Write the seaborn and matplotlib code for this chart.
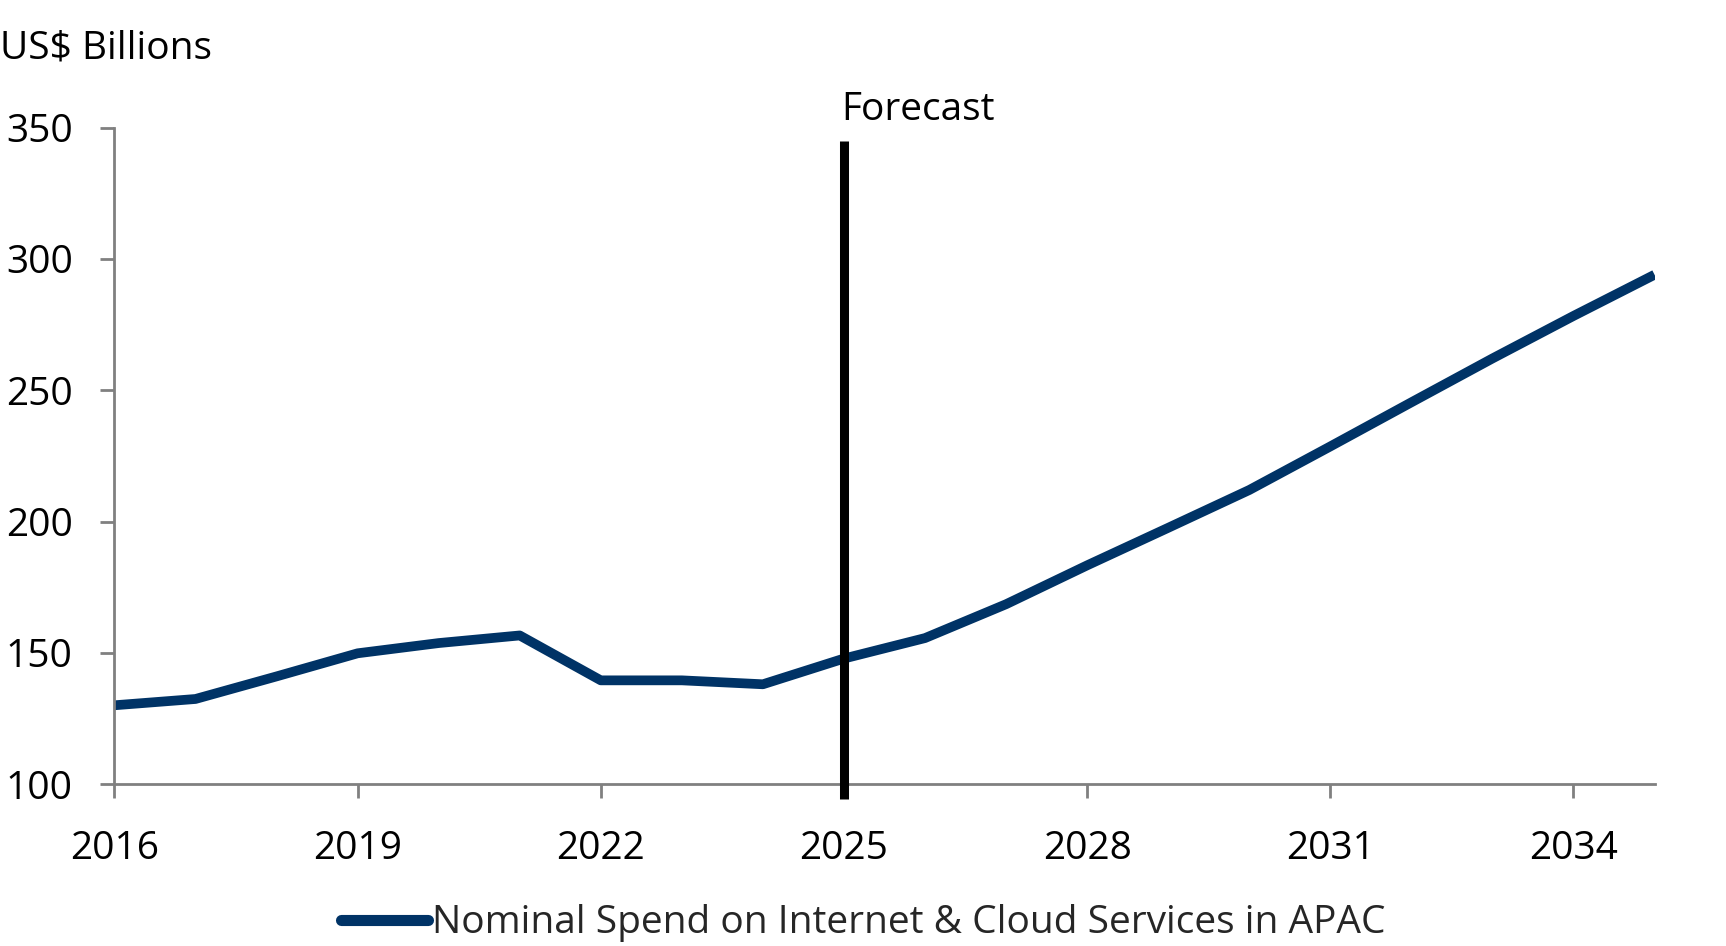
import matplotlib
matplotlib.use("Agg")
import matplotlib.pyplot as plt
import seaborn as sns
import pandas as pd

years = list(range(2016, 2036))
spend = [130.0, 132.4, 141.0, 149.8, 153.7, 156.6, 139.5, 139.5, 138.0, 147.8,
         155.6, 168.5, 183.3, 197.6, 212.0, 228.6, 245.4, 262.1, 278.3, 294.0]
series_name = "Nominal Spend on Internet & Cloud Services in APAC"
x_ticks = [2016, 2019, 2022, 2025, 2028, 2031, 2034]
y_ticks = [100, 150, 200, 250, 300, 350]
forecast_year = 2025

df = pd.DataFrame({"Year": years, "Spend": spend, "Series": series_name})

sns.set_theme(style="white")
plt.rcParams["font.family"] = ["Open Sans", "DejaVu Sans"]

FS = 28

fig = plt.figure(figsize=(17.26, 9.46), dpi=100)
ax = fig.add_axes([0.0663, 0.1712, 0.8923, 0.6938])

sns.lineplot(data=df, x="Year", y="Spend", hue="Series", palette=["#003366"],
             linewidth=7, ax=ax, legend=True, solid_capstyle="butt")

ax.axvline(forecast_year, ymin=-0.023, ymax=0.979, color="black", lw=6.5,
           clip_on=False, zorder=5, solid_capstyle="butt")
ax.text(forecast_year - 0.03, 0.998, "Forecast", transform=ax.get_xaxis_transform(),
        ha="left", va="bottom", fontsize=FS, color="black")

ax.set_xlim(2016, 2035)
ax.set_ylim(100, 350)
ax.set_xticks(x_ticks)
ax.set_yticks(y_ticks)
ax.set_xlabel("")
ax.set_ylabel("")
for s in ["top", "right"]:
    ax.spines[s].set_visible(False)
for s in ["left", "bottom"]:
    ax.spines[s].set_color("#808080")
    ax.spines[s].set_linewidth(2)
ax.tick_params(axis="both", which="both", direction="out", length=10, width=2,
               color="#808080", labelsize=FS, labelcolor="black",
               bottom=True, left=True)
ax.tick_params(axis="y", pad=20)
ax.tick_params(axis="x", pad=23)

fig.text(0.0, 0.949, "US$ Billions", fontsize=FS, ha="left", va="center", color="black")

leg = ax.legend(loc="center", bbox_to_anchor=(0.5, 0.024), bbox_transform=fig.transFigure,
                frameon=False, fontsize=FS, handlelength=2.25, handletextpad=0.1)
for line in leg.get_lines():
    line.set_linewidth(8)
    line.set_solid_capstyle("round")

fig.savefig("out.png", dpi=100, facecolor="white")
